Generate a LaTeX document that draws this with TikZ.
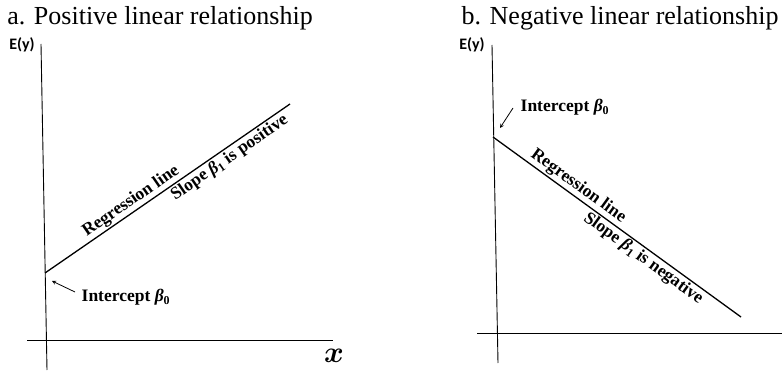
\RequirePackage{fix-cm}
\documentclass[tikz,border=0pt]{standalone}
\usepackage{amsmath,amssymb}
\usepackage{bm}
\usepackage{fontspec}
\setmainfont{Liberation Serif}
\newfontfamily\carlito{Carlito}
\usetikzlibrary{arrows,positioning,calc}
% bold italic beta with a lowered index
\newcommand{\betaidx}[1]{{\itshape β}\raisebox{-0.35ex}{\fontsize{12}{12}\selectfont #1}}

\begin{document}
\begin{tikzpicture}[
    x=1pt, y=-1pt,
    title/.style={font=\fontsize{26}{30}\selectfont, inner sep=0pt, anchor=base},
    axislabel/.style={font=\carlito\bfseries\fontsize{16}{18}\selectfont, inner sep=0pt},
    axis/.style={line width=0.9pt},
    regline/.style={line width=1.3pt},
    tag/.style={font=\bfseries\fontsize{17.5}{20}\selectfont, inner sep=1.5pt},
    pointer/.style={-stealth, line width=0.8pt}
  ]
    \useasboundingbox (0,0) rectangle (782,374);

    % panel a
    \node[title] (titleA) at (160,25) {a. Positive linear relationship};
    \coordinate (yAtop) at (41,44);
    \coordinate (yAbot) at (47,370);
    \coordinate (xAleft) at (27,340);
    \coordinate (xAright) at (333,340);
    \node[axislabel] (eyA) at (22,45) {E(y)};
    \node[font=\fontsize{30}{30}\selectfont, inner sep=0pt] (xlabA) at (334,356) {$\bm{x}$};
    \draw[axis] (yAtop) -- (yAbot);
    \draw[axis] (xAleft) -- (xAright);

    \coordinate (regA0) at (45,273);
    \coordinate (regA1) at (290,104);
    \draw[regline] (regA0) -- node[tag, sloped, above, pos=0.375] (regnameA) {Regression line}
      node[tag, sloped, below, pos=0.73] (slopeA) {Slope \betaidx{1} is positive} (regA1);

    \node[tag, anchor=west] (icptA) at (80,297) {Intercept \betaidx{0}};
    \coordinate (tipA) at (52,281);
    \draw[pointer] ([shift={(-5,-5)}]icptA.west) -- (tipA);

    % panel b
    \node[title] (titleB) at (620,25) {b. Negative linear relationship};
    \coordinate (yBtop) at (492,45);
    \coordinate (yBbot) at (498,363);
    \coordinate (xBleft) at (477,333);
    \coordinate (xBright) at (782,333);
    \node[axislabel] (eyB) at (472,45) {E(y)};
    \draw[axis] (yBtop) -- (yBbot);
    \draw[axis] (xBleft) -- (xBright);

    \coordinate (regB0) at (493,137);
    \coordinate (regB1) at (741,317);
    \draw[regline] (regB0) -- node[tag, sloped, above, pos=0.32] (regnameB) {Regression line}
      node[tag, sloped, below, pos=0.63] (slopeB) {Slope \betaidx{1} is negative} (regB1);

    \node[tag, anchor=west] (icptB) at (519,107) {Intercept \betaidx{0}};
    \coordinate (tipB) at (500,128);
    \draw[pointer] ([shift={(-6,1)}]icptB.west) -- (tipB);
  \end{tikzpicture}
\end{document}
